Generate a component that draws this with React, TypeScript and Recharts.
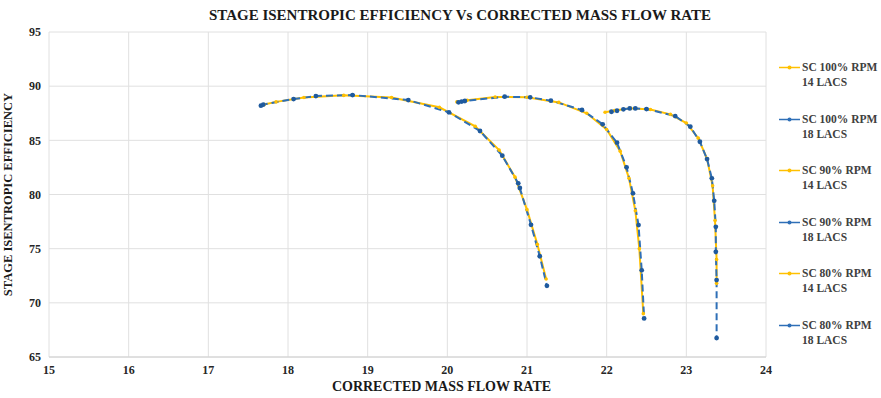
import React from "react"
import { LineChart, Line, XAxis, YAxis, CartesianGrid } from "recharts"

document.body.style.margin = "0"

// corrected mass flow rate / stage isentropic efficiency
const flow80_14 = [17.7, 17.85, 18.2, 18.7, 19.3, 19.9, 20.35, 20.65, 20.85, 21.0, 21.13, 21.24]
const eff80_14 = [88.3, 88.55, 88.95, 89.15, 88.95, 88.05, 86.3, 84.1, 81.6, 78.6, 75.4, 72.2]
const flow80_18 = [17.66, 17.69, 18.07, 18.35, 18.81, 19.51, 20.02, 20.41, 20.69, 20.89, 20.91, 21.05, 21.16, 21.25]
const eff80_18 = [88.2, 88.3, 88.81, 89.09, 89.18, 88.72, 87.59, 85.86, 83.58, 81.03, 80.6, 77.2, 74.3, 71.57]

const flow90_14 = [20.12, 20.25, 20.6, 21.0, 21.4, 21.75, 22.0, 22.17, 22.28, 22.36, 22.41, 22.46]
const eff90_14 = [88.55, 88.7, 89.0, 88.98, 88.5, 87.5, 86.0, 84.0, 81.5, 78.5, 75.0, 69.0]
const flow90_18 = [20.14, 20.18, 20.22, 20.72, 21.04, 21.3, 21.69, 21.95, 22.13, 22.25, 22.33, 22.4, 22.44, 22.47]
const eff90_18 = [88.51, 88.58, 88.63, 89.03, 88.97, 88.66, 87.8, 86.48, 84.78, 82.51, 80.11, 77.18, 73.0, 68.56]

const flow100_14 = [21.98, 22.1, 22.3, 22.55, 22.8, 23.0, 23.15, 23.26, 23.33, 23.36, 23.38, 23.38]
const eff100_14 = [87.59, 87.75, 87.95, 87.85, 87.4, 86.6, 85.2, 83.3, 80.8, 77.6, 74.0, 71.8]
const flow100_18 = [22.06, 22.13, 22.21, 22.29, 22.36, 22.5, 22.86, 23.05, 23.17, 23.26, 23.32, 23.35, 23.37, 23.37, 23.38, 23.38]
const eff100_18 = [87.64, 87.73, 87.86, 87.95, 87.95, 87.89, 87.24, 86.26, 84.87, 83.27, 81.49, 79.42, 77.02, 74.71, 72.1, 66.75]

const xTicks = [15, 16, 17, 18, 19, 20, 21, 22, 23, 24]
const yTicks = [65, 70, 75, 80, 85, 90, 95]

const YELLOW = "#FFC000"
const BLUE = "#2E6FB7"
const FONT = "'Liberation Serif', 'Times New Roman', serif"

const zip = (xs: number[], ys: number[]) => xs.map((x, i) => ({ x, y: ys[i] }))

const series = [
  { name: "SC 100% RPM", sub: "14 LACS", color: YELLOW, data: zip(flow100_14, eff100_14) },
  { name: "SC 100% RPM", sub: "18 LACS", color: BLUE, data: zip(flow100_18, eff100_18) },
  { name: "SC 90% RPM", sub: "14 LACS", color: YELLOW, data: zip(flow90_14, eff90_14) },
  { name: "SC 90% RPM", sub: "18 LACS", color: BLUE, data: zip(flow90_18, eff90_18) },
  { name: "SC 80% RPM", sub: "14 LACS", color: YELLOW, data: zip(flow80_14, eff80_14) },
  { name: "SC 80% RPM", sub: "18 LACS", color: BLUE, data: zip(flow80_18, eff80_18) },
]

// yellow lines first so the dashed blue ones sit on top
const drawOrder = [...series.filter((s) => s.color === YELLOW), ...series.filter((s) => s.color === BLUE)]

function SideLegend() {
  return (
    <div style={{ position: "absolute", left: 778, top: 60, fontFamily: FONT, fontSize: 11.5, color: "#404040", fontWeight: "bold" }}>
      {series.map((s, i) => (
        <div key={i} style={{ display: "flex", alignItems: "flex-start", height: 51.5 }}>
          <svg width={24} height={14} style={{ flexShrink: 0 }}>
            <line x1={1} x2={22} y1={7.5} y2={7.5} stroke={s.color} strokeWidth={1.5} />
            <circle cx={11.5} cy={7.5} r={2} fill={s.color} />
          </svg>
          <div style={{ lineHeight: "15px" }}>
            {s.name}
            <br />
            {s.sub}
          </div>
        </div>
      ))}
    </div>
  )
}

export default function App() {
  const tickStyle = { fontFamily: FONT, fontSize: 12, fontWeight: "bold", fill: "#262626" }
  return (
    <div style={{ position: "relative", width: 881, height: 398, background: "#fff" }}>
      <div
        style={{
          position: "absolute",
          top: 7,
          left: 0,
          width: 920,
          textAlign: "center",
          fontFamily: FONT,
          fontWeight: "bold",
          fontSize: 15,
          color: "#1a1a1a",
        }}
      >
        STAGE ISENTROPIC EFFICIENCY Vs CORRECTED MASS FLOW RATE
      </div>
      <LineChart width={881} height={398} margin={{ top: 32, right: 115, bottom: 0, left: 0 }}>
        <CartesianGrid stroke="#e0e0e0" />
        <XAxis
          type="number"
          dataKey="x"
          domain={[15, 24]}
          ticks={xTicks}
          allowDataOverflow
          height={41}
          tickLine={false}
          axisLine={{ stroke: "#d0d0d0" }}
          tick={{ ...tickStyle, dy: 0 }}
          label={{
            value: "CORRECTED MASS FLOW RATE",
            position: "insideBottom",
            offset: 7,
            dx: 34,
            style: { fontFamily: FONT, fontSize: 14, fontWeight: "bold", fill: "#1a1a1a" },
          }}
        />
        <YAxis
          type="number"
          dataKey="y"
          domain={[65, 95]}
          ticks={yTicks}
          allowDataOverflow
          width={49}
          tickLine={false}
          axisLine={false}
          tick={tickStyle}
          label={{
            value: "STAGE ISENTROPIC EFFICIENCY",
            angle: -90,
            position: "insideLeft",
            offset: 8,
            style: { textAnchor: "middle", fontFamily: FONT, fontSize: 12.5, fontWeight: "bold", fill: "#1a1a1a" },
          }}
        />
        {drawOrder.map((s, i) => (
          <Line
            key={i}
            data={s.data}
            dataKey="y"
            type="linear"
            stroke={s.color}
            strokeWidth={2}
            strokeDasharray={s.color === BLUE ? "7 4" : undefined}
            dot={{ r: s.color === BLUE ? 2.4 : 1.8, fill: s.color === BLUE ? "#1F5A9E" : YELLOW, stroke: "none" }}
            isAnimationActive={false}
          />
        ))}
      </LineChart>
      <SideLegend />
    </div>
  )
}
